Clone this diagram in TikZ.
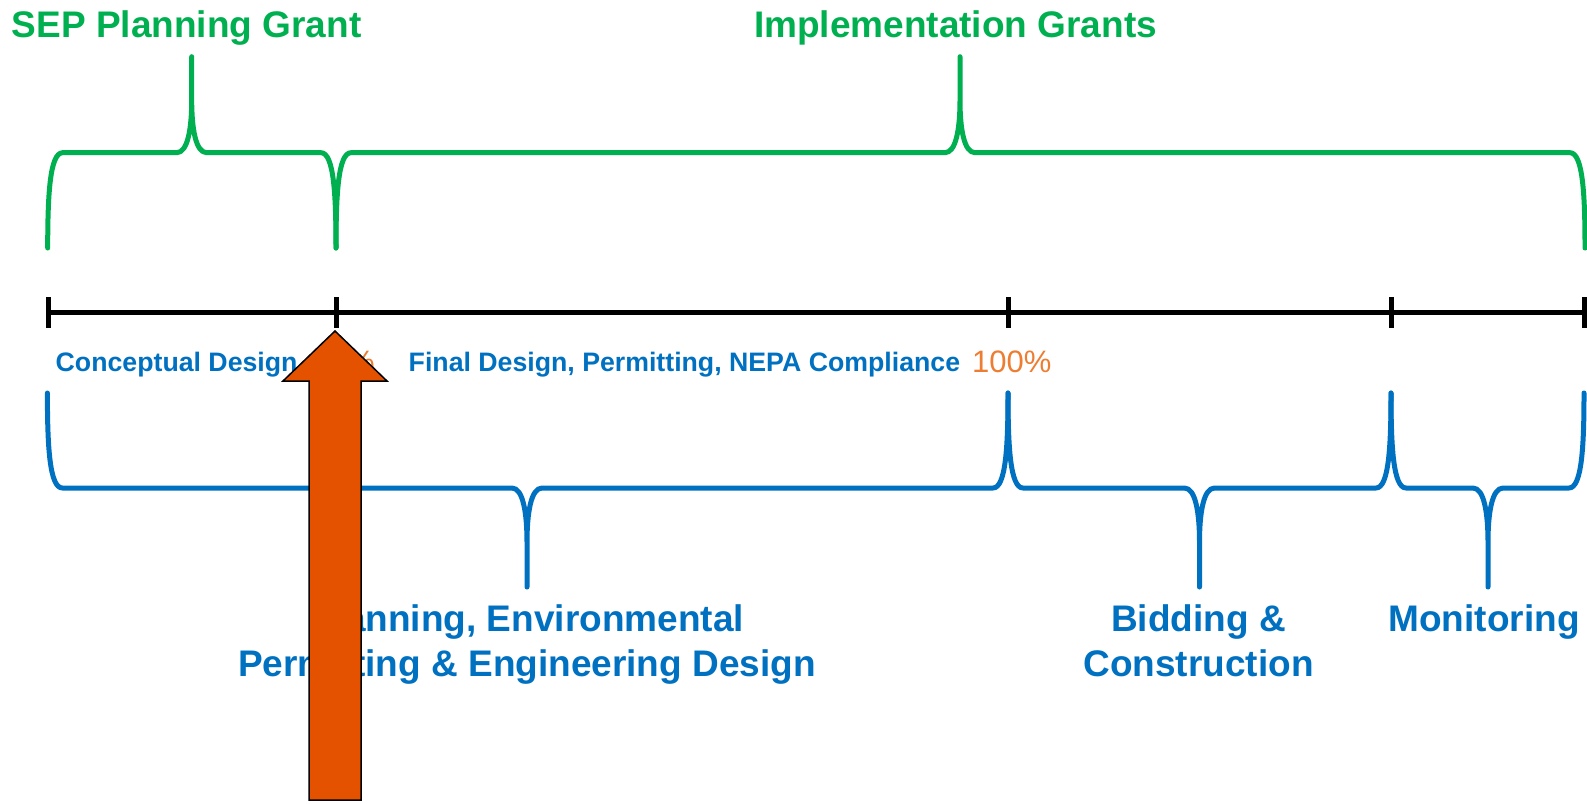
\documentclass[tikz,border=0pt]{standalone}
\usepackage{fontspec}
\setmainfont{Liberation Sans}
\usetikzlibrary{positioning}

\definecolor{grantgreen}{HTML}{00B050}
\definecolor{phaseblue}{HTML}{0070C0}
\definecolor{pctorange}{HTML}{ED7D31}
\definecolor{arroworange}{RGB}{228,82,0}

% colour, left x, tip x, right x, end y, line y, tip y
\newcommand{\curlybrace}[7]{%
  \draw[bracestyle, #1] (#2,#5) .. controls (#2,{#6+0.45*(#5-#6)}) and ({#2+2},#6) .. ({#2+15},#6)
    -- ({#3-15},#6) .. controls ({#3-4},#6) and (#3,{#6+0.25*(#7-#6)}) .. (#3,{#6+0.55*(#7-#6)})
    -- (#3,#7) -- (#3,{#6+0.55*(#7-#6)})
    .. controls (#3,{#6+0.25*(#7-#6)}) and ({#3+4},#6) .. ({#3+15},#6)
    -- ({#4-15},#6) .. controls ({#4-2},#6) and (#4,{#6+0.45*(#5-#6)}) .. (#4,#5);}

\begin{document}
\begin{tikzpicture}[x=1pt, y=-1pt,
    bracestyle/.style={line width=5pt, line cap=round, line join=round},
    timeline/.style={line width=5pt, black},
    grantlabel/.style={font=\bfseries\fontsize{37}{44}\selectfont, text=grantgreen, inner sep=0pt},
    phaselabel/.style={font=\bfseries\fontsize{37}{45}\selectfont, text=phaseblue, align=center, inner sep=0pt},
    tasklabel/.style={font=\bfseries\fontsize{26.7}{30}\selectfont, text=phaseblue, inner sep=0pt, anchor=base west},
    pctlabel/.style={font=\fontsize{31}{36}\selectfont, text=pctorange, inner sep=0pt},
    bigarrow/.style={fill=arroworange, draw=black, line width=1.5pt, line join=miter}]
\useasboundingbox (0,0) rectangle (1587,803);

% timeline
\coordinate (t0) at (48,312.5);
\coordinate (t1) at (336,312.5);
\coordinate (t2) at (1008,312.5);
\coordinate (t3) at (1391,312.5);
\coordinate (t4) at (1584.5,312.5);
\draw[timeline] (t0) -- (t4);
\foreach \t in {t0,t1,t2,t3,t4}
    \draw[timeline] ([yshift=15.5pt]\t) -- ([yshift=-15.5pt]\t);

% grants
\curlybrace{grantgreen}{47.7}{191.7}{336}{248}{152.7}{56.7}
\curlybrace{grantgreen}{336}{960}{1585}{248}{152.7}{56.7}
\coordinate (g1) at (191.7,56.7);
\coordinate (g2) at (960,56.7);
\node[grantlabel, above=11pt of g1, xshift=-5pt] (sep) {SEP Planning Grant};
\node[grantlabel, above=11pt of g2, xshift=-4.5pt] (impl) {Implementation Grants};

% tasks
\node[tasklabel] (concept) at (55.5,371.7) {Conceptual Design};
\node[pctlabel, anchor=base east] (part) at (375,372) {\%};
\node[tasklabel] (final) at (408.5,371.7) {Final Design, Permitting, NEPA Compliance};
\node[pctlabel, anchor=base west] (full) at (972,372.5) {100\%};

% phases
\curlybrace{phaseblue}{47.4}{527}{1008}{393}{488}{587}
\curlybrace{phaseblue}{1008}{1199.5}{1391}{393}{488}{587}
\curlybrace{phaseblue}{1391}{1488}{1584}{393}{488}{587}
\coordinate (p1) at (527,587);
\coordinate (p2) at (1199.5,587);
\coordinate (p3) at (1488,587);
\node[phaselabel, below=17.5pt of p1] (plan) {Planning, Environmental\\Permitting \& Engineering Design};
\node[phaselabel, below=17.5pt of p2, xshift=-1pt] (build) {Bidding \&\\Construction};
\node[phaselabel, below=17.5pt of p3, xshift=-4pt] (mon) {Monitoring};

% we are here
\draw[bigarrow] (335,331) -- (387,381) -- (361,381) -- (361,800)
    -- (309,800) -- (309,381) -- (283,381) -- cycle;

\end{tikzpicture}
\end{document}
